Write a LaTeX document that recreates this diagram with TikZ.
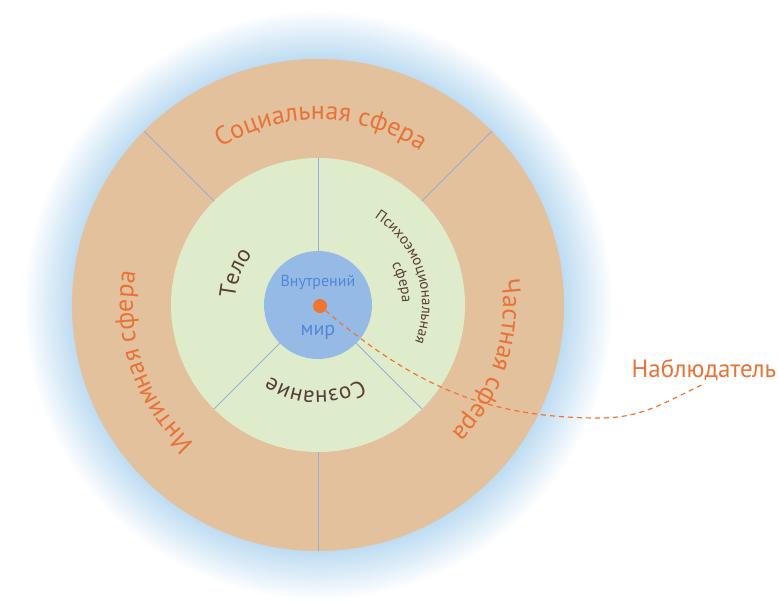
\documentclass[tikz,border=0pt]{standalone}
\usepackage{fontspec}
\setmainfont{PT Sans}
\usetikzlibrary{decorations.text}

\definecolor{ringorange}{RGB}{226,193,156}
\definecolor{ringgreen}{RGB}{223,236,203}
\definecolor{coreblue}{RGB}{150,186,230}
\definecolor{glowblue}{RGB}{190,220,242}
\definecolor{sectorline}{RGB}{150,175,210}
\definecolor{sferaorange}{RGB}{232,115,55}
\definecolor{sferabrown}{RGB}{88,62,52}
\definecolor{textblue}{RGB}{80,135,215}
\definecolor{dotorange}{RGB}{238,118,48}

\pgfdeclareradialshading{sferaglow}{\pgfpoint{0bp}{0bp}}{color(0bp)=(glowblue); color(10.25bp)=(glowblue); color(11.2bp)=(glowblue!55!white); color(12.3bp)=(white); color(50bp)=(white)}

\newcommand{\outerfont}{\fontsize{26}{31}\selectfont\color{sferaorange}}
\newcommand{\innerfont}{\fontsize{23}{28}\selectfont\color{sferabrown}}
\newcommand{\smallfont}{\fontsize{15}{18}\selectfont\color{sferabrown}}

\begin{document}
\begin{tikzpicture}[x=1pt, y=1pt,
  sector line/.style={draw=sectorline, line width=0.8pt},
  observer line/.style={draw=dotorange, line width=1.2pt, dash pattern=on 5pt off 4pt}]
\useasboundingbox[fill=white] (-318,-298) rectangle (461,305);

% Glow round the outer ring
\fill[shading=sferaglow] (0,0) circle (600);

% Rings
\node[circle, fill=ringorange, minimum size=492pt, inner sep=0pt] (outer) at (0,0) {};
\node[circle, fill=ringgreen, minimum size=294pt, inner sep=0pt] (middle) at (0,0) {};
\node[circle, fill=coreblue, minimum size=108pt, inner sep=0pt] (inner) at (0,0) {};

% Sector borders
\foreach \a in {45,135,270}
  \draw[sector line] (\a:147) -- (\a:246);
\foreach \a in {90,225,315}
  \draw[sector line] (\a:54) -- (\a:147);

% Outer spheres
\path[decorate, decoration={text along path, text align=center,
  text={|\outerfont|Социальная сфера}}] (149:185) arc[start angle=149, end angle=29, radius=185];
\path[decorate, decoration={text along path, text align=center,
  text={|\outerfont|Частная сфера}}] (42:185) arc[start angle=42, end angle=-78, radius=185];
\path[decorate, decoration={text along path, text align=center,
  text={|\outerfont|Интимная сфера}}] (259:185) arc[start angle=259, end angle=139, radius=185];

% Inner spheres
\path[decorate, decoration={text along path, text align=center,
  text={|\innerfont|Тело}}] (199:83) arc[start angle=199, end angle=119, radius=83];
\path[decorate, decoration={text along path, text align=center,
  text={|\smallfont|Психоэмоциональная}}] (78:104) arc[start angle=78, end angle=-42, radius=104];
\path[decorate, decoration={text along path, text align=center,
  text={|\smallfont|сфера}}] (65:84) arc[start angle=65, end angle=-35, radius=84];
\path[decorate, decoration={text along path, text align=center,
  text={|\innerfont|Сознание}}] (-32:86) arc[start angle=-32, end angle=-152, radius=86];

% Inner world
\node[text=textblue, font=\fontsize{16}{19}\selectfont] (inner1) at (0,23) {Внутрений};
\node[text=textblue, font=\fontsize{20}{24}\selectfont] (inner2) at (0,-27) {мир};
\node[circle, fill=dotorange, minimum size=14pt, inner sep=0pt] (dot) at (2,-1) {};

% Observer
\node[text=sferaorange, font=\fontsize{25}{30}\selectfont, inner sep=3pt] (nabl) at (386,-65) {Наблюдатель};
\coordinate (bend) at (282,-113);
\draw[observer line] (dot) to[out=-40, in=180] (bend) to[out=0, in=-155] (nabl.south);
\end{tikzpicture}
\end{document}
